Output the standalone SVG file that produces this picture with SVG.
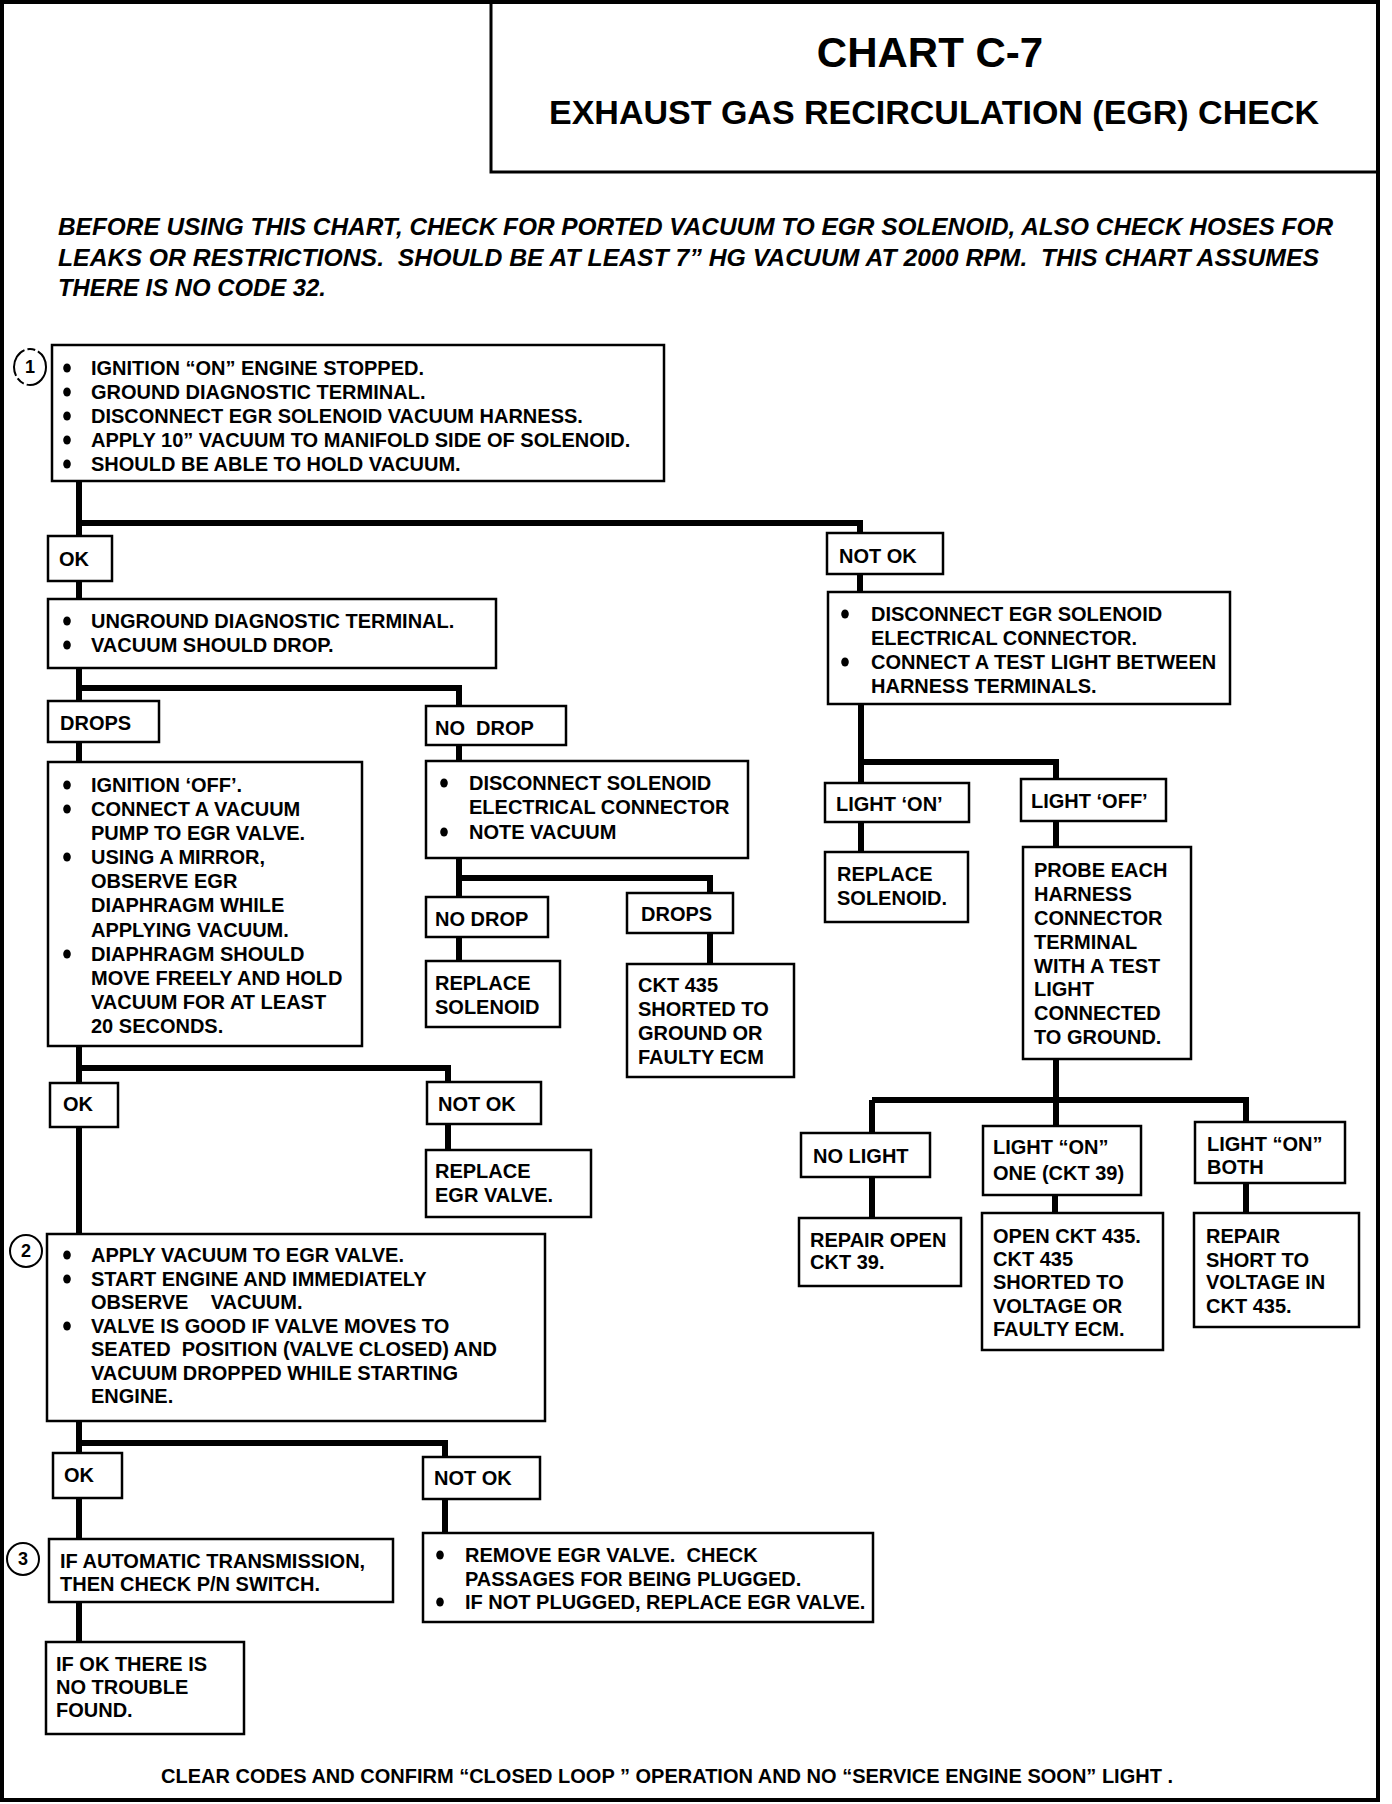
<svg xmlns="http://www.w3.org/2000/svg" width="1392" height="1804" viewBox="0 0 1392 1804">
<style>
text{font-family:"Liberation Sans",Arial,sans-serif;font-weight:bold;fill:#000}
.t{font-size:20px}
.dot{fill:#000}
.box{fill:#fff;stroke:#000;stroke-width:2.5}
.con{fill:none;stroke:#000;stroke-width:6;stroke-linejoin:miter}
.num{font-size:18px;text-anchor:middle}
.intro{font-size:23px;font-style:italic}
</style>
<defs>
<ellipse id="bul" cx="0" cy="0" rx="3.8" ry="4.6"/>
</defs>
<rect width="1392" height="1804" fill="#fff"/>
<g id="frame">
<rect x="2" y="2" width="1376" height="1798" fill="none" stroke="#000" stroke-width="4"/>
<path d="M491 2 V172 H1378" fill="none" stroke="#000" stroke-width="3"/>
</g>
<g id="title">
<text x="930" y="67" font-size="42" text-anchor="middle">CHART C-7</text>
<text x="934" y="124" font-size="34" text-anchor="middle">EXHAUST GAS RECIRCULATION (EGR) CHECK</text>
</g>
<g id="intro">
<text class="intro" x="58" y="235" textLength="1275" lengthAdjust="spacingAndGlyphs">BEFORE USING THIS CHART, CHECK FOR PORTED VACUUM TO EGR SOLENOID, ALSO CHECK HOSES FOR</text>
<text class="intro" x="58" y="265.5" textLength="1261" lengthAdjust="spacingAndGlyphs" xml:space="preserve">LEAKS OR RESTRICTIONS.  SHOULD BE AT LEAST 7” HG VACUUM AT 2000 RPM.  THIS CHART ASSUMES</text>
<text class="intro" x="58" y="296" textLength="268" lengthAdjust="spacingAndGlyphs">THERE IS NO CODE 32.</text>
</g>
<g id="connectors">
<path class="con" d="M79 481 V536"/>
<path class="con" d="M79 523 H860 V533"/>
<path class="con" d="M79 581 V599"/>
<path class="con" d="M79 668 V701"/>
<path class="con" d="M79 688 H459 V706"/>
<path class="con" d="M79 742 V762"/>
<path class="con" d="M459 745 V761"/>
<path class="con" d="M459 858 V897"/>
<path class="con" d="M459 878 H710 V893"/>
<path class="con" d="M459 937 V961"/>
<path class="con" d="M710 933 V964"/>
<path class="con" d="M79 1046 V1083"/>
<path class="con" d="M79 1068 H448 V1082"/>
<path class="con" d="M448 1124 V1150"/>
<path class="con" d="M79 1127 V1234"/>
<path class="con" d="M79 1421 V1453"/>
<path class="con" d="M79 1443 H445 V1457"/>
<path class="con" d="M79 1498 V1539"/>
<path class="con" d="M445 1499 V1533"/>
<path class="con" d="M79 1602 V1642"/>
<path class="con" d="M860 574 V592"/>
<path class="con" d="M861 704 V783"/>
<path class="con" d="M861 762 H1056 V779"/>
<path class="con" d="M861 822 V852"/>
<path class="con" d="M1056 821 V847"/>
<path class="con" d="M1056 1059 V1126"/>
<path class="con" d="M872 1100 H1246 V1122"/>
<path class="con" d="M872 1100 V1133"/>
<path class="con" d="M872 1177 V1218"/>
<path class="con" d="M1055 1195 V1213"/>
<path class="con" d="M1246 1183 V1213"/>
</g>
<g id="step1">
<ellipse cx="30" cy="367" rx="16" ry="18" fill="#fff" stroke="#000" stroke-width="2" stroke-dasharray="30 3 8 3"/>
<text class="num" x="30" y="373">1</text>
</g>
<g id="box1">
<rect class="box" x="52" y="345" width="612" height="136"/>
<use href="#bul" class="dot" x="67" y="368"/><text class="t" x="91" y="375">IGNITION “ON” ENGINE STOPPED.</text>
<use href="#bul" class="dot" x="67" y="392"/><text class="t" x="91" y="399">GROUND DIAGNOSTIC TERMINAL.</text>
<use href="#bul" class="dot" x="67" y="416"/><text class="t" x="91" y="423">DISCONNECT EGR SOLENOID VACUUM HARNESS.</text>
<use href="#bul" class="dot" x="67" y="440"/><text class="t" x="91" y="447">APPLY 10” VACUUM TO MANIFOLD SIDE OF SOLENOID.</text>
<use href="#bul" class="dot" x="67" y="464"/><text class="t" x="91" y="471">SHOULD BE ABLE TO HOLD VACUUM.</text>
</g>
<g id="ok1">
<rect class="box" x="48" y="536" width="64" height="45"/>
<text class="t" x="59" y="566">OK</text>
</g>
<g id="box2">
<rect class="box" x="48" y="599" width="448" height="69"/>
<use href="#bul" class="dot" x="67" y="621"/><text class="t" x="91" y="628">UNGROUND DIAGNOSTIC TERMINAL.</text>
<use href="#bul" class="dot" x="67" y="645"/><text class="t" x="91" y="652">VACUUM SHOULD DROP.</text>
</g>
<g id="drops1">
<rect class="box" x="48" y="701" width="111" height="41"/>
<text class="t" x="60" y="730">DROPS</text>
</g>
<g id="nodrop1">
<rect class="box" x="426" y="706" width="140" height="39"/>
<text class="t" x="435" y="735" xml:space="preserve">NO  DROP</text>
</g>
<g id="box3">
<rect class="box" x="48" y="762" width="314" height="284"/>
<use href="#bul" class="dot" x="67" y="785"/><text class="t" x="91" y="792">IGNITION ‘OFF’.</text>
<use href="#bul" class="dot" x="67" y="809"/><text class="t" x="91" y="816">CONNECT A VACUUM</text>
<text class="t" x="91" y="840">PUMP TO EGR VALVE.</text>
<use href="#bul" class="dot" x="67" y="857"/><text class="t" x="91" y="864">USING A MIRROR,</text>
<text class="t" x="91" y="888">OBSERVE EGR</text>
<text class="t" x="91" y="912">DIAPHRAGM WHILE</text>
<text class="t" x="91" y="937">APPLYING VACUUM.</text>
<use href="#bul" class="dot" x="67" y="954"/><text class="t" x="91" y="961">DIAPHRAGM SHOULD</text>
<text class="t" x="91" y="985">MOVE FREELY AND HOLD</text>
<text class="t" x="91" y="1009">VACUUM FOR AT LEAST</text>
<text class="t" x="91" y="1033">20 SECONDS.</text>
</g>
<g id="box4">
<rect class="box" x="426" y="761" width="322" height="97"/>
<use href="#bul" class="dot" x="444" y="783"/><text class="t" x="469" y="790">DISCONNECT SOLENOID</text>
<text class="t" x="469" y="814">ELECTRICAL CONNECTOR</text>
<use href="#bul" class="dot" x="444" y="832"/><text class="t" x="469" y="839">NOTE VACUUM</text>
</g>
<g id="nodrop2">
<rect class="box" x="426" y="897" width="122" height="40"/>
<text class="t" x="435" y="926">NO DROP</text>
</g>
<g id="drops2">
<rect class="box" x="627" y="893" width="106" height="40"/>
<text class="t" x="641" y="921">DROPS</text>
</g>
<g id="replacesol1">
<rect class="box" x="426" y="961" width="134" height="66"/>
<text class="t" x="435" y="990">REPLACE</text>
<text class="t" x="435" y="1014">SOLENOID</text>
</g>
<g id="ckt435">
<rect class="box" x="627" y="964" width="167" height="113"/>
<text class="t" x="638" y="992">CKT 435</text>
<text class="t" x="638" y="1016">SHORTED TO</text>
<text class="t" x="638" y="1040">GROUND OR</text>
<text class="t" x="638" y="1064">FAULTY ECM</text>
</g>
<g id="ok2">
<rect class="box" x="50" y="1083" width="68" height="44"/>
<text class="t" x="63" y="1111">OK</text>
</g>
<g id="notok2">
<rect class="box" x="427" y="1082" width="114" height="42"/>
<text class="t" x="438" y="1111">NOT OK</text>
</g>
<g id="replaceegr">
<rect class="box" x="426" y="1150" width="165" height="67"/>
<text class="t" x="435" y="1178">REPLACE</text>
<text class="t" x="435" y="1202">EGR VALVE.</text>
</g>
<g id="step2">
<circle cx="26" cy="1251" r="16" fill="#fff" stroke="#000" stroke-width="2"/>
<text class="num" x="26" y="1257">2</text>
</g>
<g id="box5">
<rect class="box" x="47" y="1234" width="498" height="187"/>
<use href="#bul" class="dot" x="67" y="1255"/><text class="t" x="91" y="1262">APPLY VACUUM TO EGR VALVE.</text>
<use href="#bul" class="dot" x="67" y="1279"/><text class="t" x="91" y="1286">START ENGINE AND IMMEDIATELY</text>
<text class="t" x="91" y="1309" xml:space="preserve">OBSERVE    VACUUM.</text>
<use href="#bul" class="dot" x="67" y="1326"/><text class="t" x="91" y="1333">VALVE IS GOOD IF VALVE MOVES TO</text>
<text class="t" x="91" y="1356" xml:space="preserve">SEATED  POSITION (VALVE CLOSED) AND</text>
<text class="t" x="91" y="1380">VACUUM DROPPED WHILE STARTING</text>
<text class="t" x="91" y="1403">ENGINE.</text>
</g>
<g id="ok3">
<rect class="box" x="53" y="1453" width="69" height="45"/>
<text class="t" x="64" y="1482">OK</text>
</g>
<g id="notok3">
<rect class="box" x="423" y="1457" width="117" height="42"/>
<text class="t" x="434" y="1485">NOT OK</text>
</g>
<g id="step3">
<circle cx="23" cy="1559" r="16" fill="#fff" stroke="#000" stroke-width="2"/>
<text class="num" x="23" y="1565">3</text>
</g>
<g id="box6">
<rect class="box" x="49" y="1539" width="344" height="63"/>
<text class="t" x="60" y="1568">IF AUTOMATIC TRANSMISSION,</text>
<text class="t" x="60" y="1591">THEN CHECK P/N SWITCH.</text>
</g>
<g id="box7">
<rect class="box" x="423" y="1533" width="450" height="89"/>
<use href="#bul" class="dot" x="440" y="1555"/><text class="t" x="465" y="1562" xml:space="preserve">REMOVE EGR VALVE.  CHECK</text>
<text class="t" x="465" y="1586">PASSAGES FOR BEING PLUGGED.</text>
<use href="#bul" class="dot" x="440" y="1602"/><text class="t" x="465" y="1609">IF NOT PLUGGED, REPLACE EGR VALVE.</text>
</g>
<g id="box8">
<rect class="box" x="46" y="1642" width="198" height="92"/>
<text class="t" x="56" y="1671">IF OK THERE IS</text>
<text class="t" x="56" y="1694">NO TROUBLE</text>
<text class="t" x="56" y="1717">FOUND.</text>
</g>
<g id="notok1">
<rect class="box" x="827" y="533" width="116" height="41"/>
<text class="t" x="839" y="563">NOT OK</text>
</g>
<g id="boxR1">
<rect class="box" x="828" y="592" width="402" height="112"/>
<use href="#bul" class="dot" x="845" y="614"/><text class="t" x="871" y="621">DISCONNECT EGR SOLENOID</text>
<text class="t" x="871" y="645">ELECTRICAL CONNECTOR.</text>
<use href="#bul" class="dot" x="845" y="662"/><text class="t" x="871" y="669">CONNECT A TEST LIGHT BETWEEN</text>
<text class="t" x="871" y="693">HARNESS TERMINALS.</text>
</g>
<g id="lighton">
<rect class="box" x="825" y="783" width="144" height="39"/>
<text class="t" x="836" y="811">LIGHT ‘ON’</text>
</g>
<g id="lightoff">
<rect class="box" x="1021" y="779" width="145" height="42"/>
<text class="t" x="1031" y="808">LIGHT ‘OFF’</text>
</g>
<g id="replacesol2">
<rect class="box" x="825" y="852" width="143" height="70"/>
<text class="t" x="837" y="881">REPLACE</text>
<text class="t" x="837" y="905">SOLENOID.</text>
</g>
<g id="probe">
<rect class="box" x="1023" y="847" width="168" height="212"/>
<text class="t" x="1034" y="877">PROBE EACH</text>
<text class="t" x="1034" y="901">HARNESS</text>
<text class="t" x="1034" y="925">CONNECTOR</text>
<text class="t" x="1034" y="949">TERMINAL</text>
<text class="t" x="1034" y="973">WITH A TEST</text>
<text class="t" x="1034" y="996">LIGHT</text>
<text class="t" x="1034" y="1020">CONNECTED</text>
<text class="t" x="1034" y="1044">TO GROUND.</text>
</g>
<g id="nolight">
<rect class="box" x="801" y="1133" width="129" height="44"/>
<text class="t" x="813" y="1163">NO LIGHT</text>
</g>
<g id="lightone">
<rect class="box" x="983" y="1126" width="158" height="69"/>
<text class="t" x="993" y="1154">LIGHT “ON”</text>
<text class="t" x="993" y="1180">ONE (CKT 39)</text>
</g>
<g id="lightboth">
<rect class="box" x="1195" y="1122" width="150" height="61"/>
<text class="t" x="1207" y="1151">LIGHT “ON”</text>
<text class="t" x="1207" y="1174">BOTH</text>
</g>
<g id="repairopen">
<rect class="box" x="799" y="1218" width="162" height="68"/>
<text class="t" x="810" y="1247">REPAIR OPEN</text>
<text class="t" x="810" y="1269">CKT 39.</text>
</g>
<g id="openckt">
<rect class="box" x="982" y="1213" width="181" height="137"/>
<text class="t" x="993" y="1243">OPEN CKT 435.</text>
<text class="t" x="993" y="1266">CKT 435</text>
<text class="t" x="993" y="1289">SHORTED TO</text>
<text class="t" x="993" y="1313">VOLTAGE OR</text>
<text class="t" x="993" y="1336">FAULTY ECM.</text>
</g>
<g id="repairshort">
<rect class="box" x="1194" y="1213" width="165" height="114"/>
<text class="t" x="1206" y="1243">REPAIR</text>
<text class="t" x="1206" y="1267">SHORT TO</text>
<text class="t" x="1206" y="1289">VOLTAGE IN</text>
<text class="t" x="1206" y="1313">CKT 435.</text>
</g>
<g id="footer">
<text x="161" y="1783" font-size="20" textLength="1012" lengthAdjust="spacingAndGlyphs">CLEAR CODES AND CONFIRM “CLOSED LOOP ” OPERATION AND NO “SERVICE ENGINE SOON” LIGHT .</text>
</g>
</svg>
